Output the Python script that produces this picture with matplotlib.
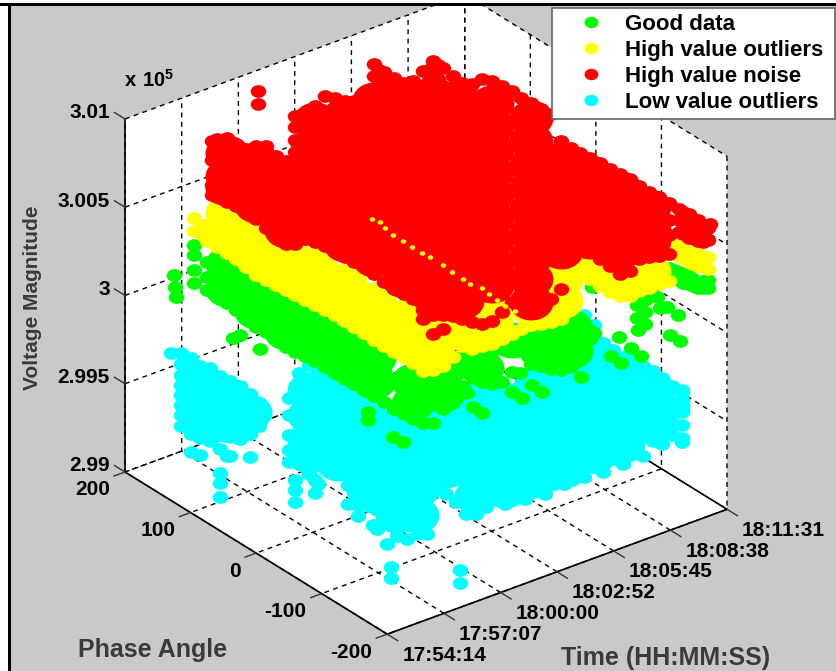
import numpy as np
import matplotlib
matplotlib.use("Agg")
import matplotlib.pyplot as plt
from matplotlib.lines import Line2D
from matplotlib.markers import MarkerStyle
from matplotlib.patches import Rectangle
from matplotlib.path import Path
from matplotlib.transforms import Affine2D
from mpl_toolkits.mplot3d import proj3d

# ---- axes ----
time_ticks = [0, 2.883, 5.767, 8.633, 11.517, 14.4, 17.283]   # minutes after 17:54:14
time_labels = ["17:54:14", "17:57:07", "18:00:00", "18:02:52", "18:05:45", "18:08:38", "18:11:31"]
phase_ticks = [-200, -100, 0, 100, 200]
volt_ticks = [2.99, 2.995, 3.0, 3.005, 3.01]
volt_labels = ["2.99", "2.995", "3", "3.005", "3.01"]
legend_labels = ["Good data", "High value outliers", "High value noise", "Low value outliers"]

# ---- data: rows of (time in minutes, phase angle, [voltage / 1e5, ...]) ----
red_edge = [
 (2.75,150,[3.0088,3.0077,3.0063,3.0057]),
 (3,150,[3.00879,3.0055]),(3.5,150,[3.00864,3.00501]),(4,150,[3.00798,3.00458]),
 (4.5,150,[3.0076,3.00409]),(5,150,[3.00756,3.00343]),(5.5,150,[3.00737,3.00272]),
 (6,150,[3.0066,3.00252]),(6.5,150,[3.00611,3.00141]),(7,150,[3.00845,3.0078,3.0071,3.0064,3.0012]),
 (7.5,150,[3.00836,3.00128]),(8,150,[3.00861,3.0009]),(8.5,150,[3.00897,3.00047]),
 (9,150,[3.00865,2.99993]),(9.5,150,[3.00828,2.99944]),(10,150,[3.00807,2.99895]),
 (10.5,150,[3.00798,2.99852]),(11,150,[3.00976,3.00908,3.0084,2.99786]),(11.25,150,[3.0093,3.0086]),(11.5,150,[3.00909,3.0084,2.9972]),
 (12,150,[3.00855,3.0079,2.9966]),(12.5,150,[3.00807,3.0074,2.99611]),(13,150,[3.00798,3.0074,2.99563]),
 (13.5,150,[3.00833,3.0075,2.9948,2.99428]),(13.75,150,[3.0083,3.0076]),(14,150,[3.0087,3.0079,3.0072,2.9943,2.99323]),
 (14.25,150,[3.0084,3.0076]),(14.5,150,[3.0081,3.0071,2.9949,2.9941,2.99331]),(15,150,[3.00744,3.0068,2.99384]),(15.5,150,[3.00684,2.99347]),
 (16,150,[3.00658,2.99309]),(16.5,150,[3.00666,2.99278]),(17,150,[3.00633,2.99274]),
 (17,135,[3.0064,2.99359]),(17,120,[3.00646,2.9945]),(17,105,[3.0064,2.99456]),(17,90,[3.00646,2.99468]),
 (17,75,[3.00647,2.99531]),(17,60,[3.00653,2.99605]),(17,45,[3.00535,2.99696]),(17,30,[3.0053,2.99918]),
 (17,15,[3.00535,3.00003]),(17,0,[3.00541,3.00008]),(17,-15,[3.00547,3.00003]),(17,-30,[3.00547,2.99997]),
 (17,-45,[3.00554,2.99988]),(17,-60,[3.0056,3.00039]),(17,-75,[3.00555,3.00142]),(17,-90,[3.00555,3.00187]),
 (17,-105,[3.00562,3.0046,3.00386,3.0031,3.00227]),(17,-120,[3.00562,3.00466,3.0038,3.00273]),
 (17,-135,[3.00563,3.005,3.00432]),(17,-142,[3.0056,3.005,3.0044]),(17,-150,[3.00569,3.005,3.00433]),
 (17,-157,[3.0056,3.005,3.0045]),(17,-165,[3.00569,3.005,3.0045]),(17,-172,[3.0056,3.005,3.0046]),
 (17,-180,[3.00558,3.0049]),(17,-183,[3.0059]),
 (6.76,200,[3.0088,3.0081]),
]
red_core = [
 (3.5,150,[3.0078,3.0065,3.0058]),(5,150,[3.0068,3.0055,3.0042]),(6.5,150,[3.0053,3.004,3.0027,3.0022]),
 (8,150,[3.0078,3.0065,3.0052,3.0039,3.0026,3.0017]),(9.5,150,[3.0075,3.0062,3.0049,3.0036,3.0023,3.001,3.0002]),
 (11,150,[3.0077,3.0064,3.0051,3.0038,3.0025,3.0012,2.9999,2.9987]),
 (12.5,150,[3.0073,3.006,3.0047,3.0034,3.0021,3.0008,2.9995,2.9982,2.9969]),
 (14,150,[3.0068,3.0055,3.0042,3.0029,3.0016,3.0003,2.999,2.9977,2.9964,2.9954]),
 (15.5,150,[3.0057,3.0044,3.0031,3.0018,3.0005,2.9992,2.9979,2.9966,2.9955,2.9945]),
 (17,150,[3.0051,3.0038,3.0025,3.0012,2.9999,2.9986,2.9973,2.996,2.9948]),
 (17,90,[3.0056,3.0043,3.003,3.0017,3.0004,2.9991,2.9978,2.9965,2.9952]),
 (17,45,[3.0043,3.003,3.0017,3.0004,2.9991]),(17,0,[3.0046,3.0033,3.002,3.0007]),
 (17,-45,[3.0047,3.0034,3.0021,3.0012]),(17,-90,[3.0047,3.0034,3.0028]),
]
yellow_edge = [
 (3.5,200,[3.00296,3.0022]),(4,200,[3.00235,3.00173]),
 (2.5,150,[3.0039,3.0032]),(3,150,[3.0034,3.00267]),(3.5,150,[3.00212]),(4,150,[3.00158]),(4.5,150,[3.00092]),(5,150,[3.00026]),
 (5.5,150,[2.99977]),(6,150,[2.99929]),(6.5,150,[2.9988]),(7,150,[2.99831]),(7.5,150,[2.99782]),(8,150,[2.99733]),
 (8.5,150,[2.99684]),(9,150,[2.99636]),(9.5,150,[2.99581]),(10,150,[2.99527]),(10.5,150,[2.99472]),(11,150,[2.99412]),
 (11.5,150,[2.99357]),(12,150,[2.99303]),(12.5,150,[2.99254]),(13,150,[2.992]),(13.5,150,[2.99134]),(14,150,[2.99119]),
 (14.5,150,[2.99121]),(15,150,[2.99152]),(15.5,150,[2.99194]),(16,150,[2.99156]),(16.5,150,[2.99153]),(17,150,[2.99143]),
 (17,135,[2.99206]),(17,120,[2.99269]),(17,105,[2.99331]),(17,90,[2.99389]),(17,75,[2.99429]),(17,60,[2.99475]),
 (17,45,[2.99526]),(17,30,[2.99691]),(17,15,[2.9985]),(17,0,[2.99856]),(17,-15,[2.9985]),(17,-30,[2.9985]),
 (17,-45,[2.99863]),(17,-60,[2.99897]),(17,-75,[2.9996]),(17,-90,[3.0001]),(17,-105,[3.00069]),(17,-120,[3.0012]),
 (17,-127,[3.0037,3.00314]),(17,-135,[3.00359,3.00296]),(17,-142,[3.0036,3.003]),(17,-150,[3.00365,3.00297]),
 (17,-157,[3.0037,3.003]),(17,-165,[3.00377,3.00309]),(17,-172,[3.0038,3.0032]),(17,-180,[3.00394,3.00326]),
]
yellow_core = [
 (3.5,150,[3.0031,3.0044]),(5,150,[3.0013,3.0026]),(6.5,150,[2.9998,3.0011]),(8,150,[2.9984,2.9996]),
 (9.5,150,[2.9968,2.9981]),(11,150,[2.9951,2.9964]),(12.5,150,[2.9936,2.9948]),(14,150,[2.9922,2.9935]),
 (15.5,150,[2.9928,2.994]),(17,150,[2.9925,2.9937]),(17,90,[2.9949,2.9961]),(17,45,[2.9963,2.9975]),
 (17,0,[2.9995]),(17,-45,[2.9996]),(17,-90,[3.0011]),
]
yellow_seam = [
 (10.9,150,[3.001]),(11.3,150,[3.00068]),(11.55,150,[3.00024]),(11.96,150,[2.99968]),(12.47,150,[2.99913]),
 (12.93,150,[2.9986]),(13.43,150,[2.99805]),(13.84,150,[2.99766]),(14.5,150,[2.99694]),(14.96,150,[2.99635]),
 (15.52,150,[2.99572]),(15.88,150,[2.99529]),(16.49,150,[2.99482]),(16.84,150,[2.99433]),(17,142,[2.9941]),
 (17,130,[2.99408]),(17,115,[2.9941]),
]
green_edge = [
 (3.5,200,[3.00143,3.00086,3.00001,2.99927]),
 (2.5,150,[3.002,3.0012,3.00042]),(3,150,[3.0016,3.0008,2.99989]),(3.5,150,[2.99929]),(4,150,[2.99869]),(4.5,150,[2.99797]),(5,150,[2.99731]),
 (5.5,150,[2.99683]),(6,150,[2.99623]),(6.5,150,[2.99557]),(7,150,[2.99508]),(7.5,150,[2.99465]),(8,150,[2.99416]),
 (8.5,150,[2.99361]),(9,150,[2.99307]),(9.5,150,[2.99253]),(10,150,[2.99204]),(10.5,150,[2.99149]),(11,150,[2.99095]),
 (11.5,150,[2.9904]),
 (7,0,[2.99529]),(7.5,0,[2.9948]),(8,0,[2.99432]),(8.5,0,[2.99389]),(9,0,[2.99368]),(9.5,0,[2.99427]),(10,0,[2.99446]),
 (10.5,0,[2.99516,2.99606,2.99691]),(11,0,[2.99666,2.99728]),(11.5,0,[2.99498]),(12,0,[2.99465]),(12.5,0,[2.99457]),
 (13,0,[2.99493]),(13.5,0,[2.996]),(14,0,[2.99497]),(14.5,0,[2.99465]),(15,0,[2.99428]),(15.5,0,[2.99402]),
 (16,0,[2.99402]),(16.5,0,[2.99508]),(17,0,[2.99516]),
 (17,-120,[3.00194,3.00148]),(17,-127,[3.002,3.0015]),(17,-135,[3.00206,3.0016]),(17,-142,[3.0021,3.0016]),
 (17,-150,[3.00217,3.00172]),(17,-157,[3.0022,3.0018]),(17,-165,[3.00218,3.00184]),(17,-172,[3.0024,3.002]),(17,-180,[3.00264,3.00218]),
 (2.49,200,[3.00014]),(2.54,200,[2.99944]),(2.59,200,[2.99886]),(5.85,200,[2.99537]),(5.49,200,[2.99534]),(6.86,200,[2.99416]),
 (5.69,0,[2.99566,2.9952]),(6.96,0,[2.99372]),(7.47,0,[2.99323]),(13.42,0,[2.9947]),(14.03,0,[2.99377]),(14.54,0,[2.99317]),
 (13.01,0,[2.9938]),(13.52,0,[2.99324]),(11.03,0,[2.99376]),(11.49,0,[2.99322]),(10.73,0,[2.99467]),(16.52,0,[2.99321]),
 (16.47,0,[2.99475]),
 (11.79,-200,[3.002]),(12.4,-200,[3.00112]),(12.91,-200,[3.00046]),(11.39,-200,[3.00108]),(11.9,-200,[3.00048]),
 (14.39,-200,[3.00105]),(14.9,-200,[3.0005]),(12.76,-200,[3.002]),(12.71,-200,[3.00343,3.0027]),(13.12,-200,[3.00354,3.00286,3.0022]),
 (13.73,-200,[3.00347]),(13.88,-200,[3.00278]),(14.24,-200,[3.00269]),(14.79,-200,[3.002]),(10.42,-200,[3.0054]),
 (10.53,-200,[3.00274]),(9.81,-200,[3.00388]),(10.32,-200,[3.003]),
]
green_core = [
 (3.5,150,[3.0001,3.0015]),(5,150,[2.9982,2.9995]),(6.5,150,[2.9964,2.9978]),(8,150,[2.995,2.9964]),
 (9.5,150,[2.9934,2.9947]),(11,150,[2.9918,2.9931]),(8,0,[2.9952,2.9965]),(9.5,0,[2.9951,2.9965]),
 (11.5,0,[2.9958,2.9972]),(13,0,[2.99674]),(14.5,0,[2.9955,2.9968]),(16,0,[2.9949,2.9962]),
]
cyan_edge = [
 (1,160,[2.99725]),(1,145,[2.9976,2.99697,2.99635,2.99578,2.9952,2.99465,2.99408,2.99346]),
 (1,130,[2.99766,2.9971,2.9964,2.9957,2.995,2.9944,2.99385,2.99334,2.99233]),
 (1,115,[2.99754,2.997,2.99347,2.9925]),(1,100,[2.99778,2.99364]),(1,85,[2.99767,2.99354,2.99218,2.99161,2.99082]),
 (1,75,[2.99337]),(1,70,[2.99773,2.99349]),(1,55,[2.9978,2.99479]),(1,40,[2.99769,2.99542,2.99412]),(1,25,[2.99752,2.99684,2.99622]),
 (1,-20,[2.99883,2.99787,2.99674,2.99589,2.9952]),(1,-30,[2.99441,2.99385,2.99317]),
 (1,-35,[3.0006,2.99793,2.9965,2.99544]),(1,-50,[3.0014,2.9952]),(1,-60,[2.9951,2.99436]),(1,-65,[3.0013,2.995]),
 (1,-80,[3.0013,2.997,2.9962]),(1,-95,[3.0013,2.99624]),(1,-110,[3.0013,2.996,2.9949]),
 (1,-125,[3.0013,2.99717,2.996,2.9952,2.99456]),(1,-140,[3.0013,2.99547]),(1,-148,[2.9946]),
 (1,-155,[3.0013,2.9956,2.99451]),(1,-170,[3.0013,2.994]),(1,-175,[2.99282,2.9922]),(1,-185,[3.0013,2.9948]),
 (1,-200,[3.0013,2.99497]),
 (1.5,-200,[3.0013,2.99506]),(2,-200,[2.99484]),(2.5,-200,[2.99713]),(3,-200,[2.9967]),(3.5,-200,[2.99605]),
 (3.7,-200,[2.9921,2.99137]),(4,-200,[2.99516]),(4.5,-200,[2.99496]),(5,-200,[2.99515]),(5.5,-200,[2.99539]),
 (6,-200,[2.9949]),(6.5,-200,[2.9951]),(7,-200,[2.99478]),(7.5,-200,[2.99514]),(8,-200,[2.99465]),(8.5,-200,[2.99501]),
 (9,-200,[2.99481]),(9.5,-200,[3.00485,2.99528]),(10,-200,[3.004,2.9948]),(10.5,-200,[3.0032,3.0026,2.99516]),
 (11,-200,[3.002,2.99467]),(11.5,-200,[3.0014,2.9952]),(12,-200,[3.0008,2.9947]),(12.5,-200,[3.0005,2.99536]),
 (13,-200,[2.99986,2.99476]),(13.5,-200,[2.99937,2.9954]),(14,-200,[2.99877,2.9978,2.997,2.9961,2.99503]),
 (14.5,-200,[2.9981,2.9973,2.9965,2.9959,2.99533]),
 (15,-200,[2.99768,2.99757,2.9971,2.99683,2.99655,2.99644,2.9957,2.995,2.99474]),
]
cyan_core = [
 (1,115,[2.99647,2.99506]),(1,100,[2.99597,2.99455]),(1,70,[2.99666,2.99524]),(1,40,[2.99667]),
 (1,-50,[3.0,2.99856,2.99714,2.9963]),(1,-95,[3.0004,2.999,2.9976,2.9969]),(1,-140,[3.0003,2.9989,2.9975,2.9964]),
 (1,-185,[3.00024,2.99883,2.9974,2.996]),
 (1.5,-200,[3.0004,2.99895,2.99755,2.99613]),(3,-200,[3.0009,2.99948,2.99806]),
 (4.5,-200,[3.0014,3.0,2.9986,2.9972,2.996]),(6,-200,[3.0008,2.9994,2.998,2.99655,2.9957]),
 (7.5,-200,[3.001,2.9996,2.9982,2.9968,2.99565]),(9,-200,[3.0004,2.999,2.9976,2.99645,2.9956]),
 (10.5,-200,[3.0015,3.0001,2.99867,2.99726,2.99584]),(12,-200,[2.99976,2.99834,2.99693,2.9958]),
 (13.5,-200,[2.9983,2.99716,2.9963]),
]

def flat(rows):
    t, p, v = [], [], []
    for ti, pi, vs in rows:
        for vi in vs:
            t.append(ti); p.append(pi); v.append(vi)
    return t, p, v

plt.rcParams["font.family"] = ["Liberation Sans", "DejaVu Sans"]
plt.rcParams["font.weight"] = "bold"
plt.rcParams["mathtext.fontset"] = "custom"
plt.rcParams["mathtext.bf"] = "Liberation Sans:bold"
plt.rcParams["mathtext.rm"] = "Liberation Sans:bold"
plt.rcParams["grid.color"] = "black"
plt.rcParams["grid.linewidth"] = 1.0
plt.rcParams["grid.linestyle"] = (0, (3.5, 3.2))

W, H = 836, 671
GRAY = "#c9c9c9"
fig = plt.figure(figsize=(W / 100, H / 100), dpi=100, facecolor=GRAY)
ax = fig.add_axes([0, 0, 1, 1], projection="3d", proj_type="ortho", computed_zorder=False)
ax.set_facecolor("none")
T = time_ticks[-1]
ax.set_xlim(0, T, view_margin=0)
ax.set_ylim(-200, 200, view_margin=0)
ax.set_zlim(2.99, 3.01, view_margin=0)
ax.view_init(elev=28.47, azim=-127.63)
ax.set_box_aspect((429, 429.5, 401.6))

# place the box so that its corners land where they are in the reference
M = ax.get_proj()
xa, ya, _ = proj3d.proj_transform(0, 200, 2.99, M)
xc, yc, _ = proj3d.proj_transform(T, -200, 2.99, M)
k = (727 - 125) / (xc - xa)
vl = ax.viewLim
S = k * (vl.x1 - vl.x0)
left = 125 - k * (xa - vl.x0)
bottom = (H - 472) - k * (ya - vl.y0)
ax.set_position([left / W, bottom / H, S / W, S / H])

ellipse = Path(Path.unit_circle().vertices * [1.0, 0.82], Path.unit_circle().codes)
mk = MarkerStyle(ellipse)

def dots(rows, color, size, z):
    t, p, v = flat(rows)
    ax.scatter(t, p, v, c=color, s=size, marker=mk, linewidths=0, depthshade=False, zorder=z)

EDGE, CORE = 125, 1000
dots(cyan_core, "#00ffff", CORE, 3); dots(cyan_edge, "#00ffff", EDGE, 3)
dots(green_core, "#00ff00", CORE, 4); dots(green_edge, "#00ff00", EDGE, 4)
dots(yellow_core, "#ffff00", CORE, 5); dots(yellow_edge, "#ffff00", EDGE, 5)
dots(red_core, "#ff0000", CORE, 6); dots(red_edge, "#ff0000", EDGE, 6)
dots(yellow_seam, "#ffff00", 16, 7)

ax.plot([T, T], [-200, 200], [2.99, 2.99], color="black", lw=1, zorder=2)

# short outward tick marks along each box edge
TICK = dict(color="#333333", lw=1, zorder=2)
for tv in time_ticks:
    ax.plot([tv, tv], [-200, -216], [2.99, 2.99], **TICK)
for pv in phase_ticks:
    ax.plot([0, -0.56], [pv, pv], [2.99, 2.99], **TICK)
for vv in volt_ticks:
    ax.plot([0, 0], [200, 216], [vv, vv], **TICK)

for axis in (ax.xaxis, ax.yaxis, ax.zaxis):
    axis.set_pane_color((1, 1, 1, 1))
    axis.pane.set_edgecolor("none")
    axis.line.set_color("black")
    axis.line.set_linewidth(1.2)
    axis._axinfo["tick"].update(inward_factor=0, outward_factor=0, linewidth={True: 0.8, False: 0.5})

ax.set_xticks(time_ticks, time_labels)
ax.set_yticks(phase_ticks, [str(v) for v in phase_ticks])
ax.set_zticks(volt_ticks, volt_labels)
ax.tick_params(axis="both", labelsize=15, pad=0, colors="black")
ax.tick_params(axis="z", labelsize=15, pad=0, colors="black")
ax.set_xlim(0, T, view_margin=0)
ax.set_ylim(-200, 200, view_margin=0)
ax.set_zlim(2.99, 3.01, view_margin=0)

def place(axis, ha, va, dx, dy):
    """Nudge an axis's tick labels by (dx, dy) pixels; mplot3d resets transforms in get_major_ticks."""
    shifted = ax.transData + Affine2D().translate(dx, dy)
    original = axis.get_major_ticks
    def get_major_ticks(numticks=None):
        ticks = original(numticks)
        for tick in ticks:
            tick.label1.set_ha(ha)
            tick.label1.set_va(va)
            tick.label1.set_transform(shifted)
        return ticks
    axis.get_major_ticks = get_major_ticks

place(ax.xaxis, "left", "top", 7, 4)
place(ax.yaxis, "right", "top", -5, 6)
place(ax.zaxis, "right", "center", 3, 5)

fig.text(78 / W, 1 - 650 / H, "Phase Angle", fontsize=18, color="#3a3a3a", va="center", ha="left")
fig.text(561 / W, 1 - 658 / H, "Time (HH:MM:SS)", fontsize=18, color="#3a3a3a", va="center", ha="left")
fig.text(33 / W, 1 - 298 / H, "Voltage Magnitude", fontsize=15, color="#3a3a3a", rotation=90, va="center", ha="center")
fig.text(124 / W, 1 - 80 / H, r"$\mathbf{x\ 10^{5}}$", fontsize=14.5, color="black", va="center", ha="left")

handles = [Line2D([], [], ls="none", marker=mk, ms=10, mew=0, color=c)
           for c in ("#00ff00", "#ffff00", "#ff0000", "#00ffff")]
leg = fig.legend(handles, legend_labels, loc="upper left",
                 bbox_to_anchor=(552 / W, 1 - 115 / H, 283 / W, 107 / H), mode="expand",
                 borderaxespad=0, fancybox=False, framealpha=1, edgecolor="#666666",
                 prop={"family": "Liberation Sans", "weight": "bold", "size": 16},
                 handlelength=2.97, handletextpad=0.05, labelspacing=0.225, borderpad=0.27)
leg.get_frame().set_linewidth(1.2)
leg.set_zorder(20)

# outer frame of the picture
for x, y, w, h, c in [(0, 0, 8, H, "white"), (0, H - 3, W, 3, "white"),
                      (8, 0, 3, H - 3, "black"), (0, H - 6, W, 3, "black")]:
    fig.add_artist(Rectangle((x / W, y / H), w / W, h / H, transform=fig.transFigure,
                             facecolor=c, edgecolor="none", zorder=30))

fig.savefig("out.png", dpi=100, facecolor=GRAY)
